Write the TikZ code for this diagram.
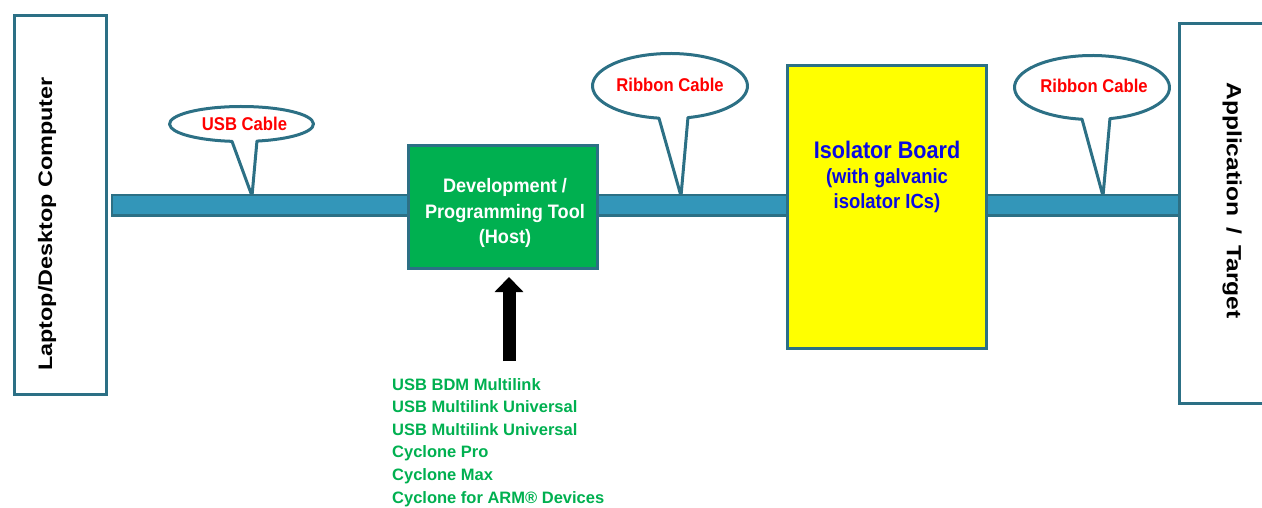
\documentclass[tikz,border=0pt]{standalone}
\usepackage{fontspec}
\setmainfont{Liberation Sans}
% narrowed face for horizontal labels, widened face for the upright side labels
\newfontfamily\hfont[FakeStretch=0.9]{Liberation Sans}
\newfontfamily\gfont[FakeStretch=0.93]{Liberation Sans}
\newfontfamily\vfont[FakeStretch=1.2]{Liberation Sans}
\newfontfamily\lfont{Liberation Sans}
\usetikzlibrary{arrows.meta,calc}

\definecolor{edge}{RGB}{44,112,133}
\definecolor{cable}{RGB}{51,150,185}
\definecolor{toolgreen}{RGB}{0,176,80}
\definecolor{isoyellow}{RGB}{255,255,0}
\definecolor{isoblue}{RGB}{10,10,225}
\definecolor{callred}{RGB}{255,0,0}

\begin{document}
\begin{tikzpicture}[x=1pt,y=-1pt,
  box/.style={draw=edge, line width=3pt, inner sep=0pt, outer sep=0pt, rectangle},
  endbox/.style={box, fill=white},
  bar/.style={draw=edge, fill=cable, line width=2.5pt},
  callout/.style={draw=edge, fill=white, line width=3pt, line join=round},
  calltext/.style={text=callred, font=\hfont\bfseries\fontsize{18.5}{20}\selectfont, inner sep=0pt},
  sidetext/.style={font=\vfont\bfseries\fontsize{19.5}{22}\selectfont, inner sep=0pt},
  toolarrow/.style={line width=13pt, -{Triangle[width=28pt,length=15pt]}},
  toollist/.style={text=toolgreen, align=left, inner sep=0pt,
    font=\lfont\bfseries\fontsize{16.5}{22.6}\selectfont}
]
\useasboundingbox (0,0) rectangle (1262,508);
\clip (0,0) rectangle (1262,508);

% end stations
\node[endbox, minimum width=92pt, minimum height=379pt] (laptop) at (60.5,205) {};
\node[sidetext, rotate=90] (laptoptext) at (47,224) {Laptop/Desktop Computer};
\node[endbox, minimum width=200pt, minimum height=380pt] (target) at (1279.5,213.5) {};
\node[sidetext, font=\vfont\bfseries\fontsize{20.5}{22}\selectfont, rotate=-90] (targettext) at (1232,200.5)
  {Application\hspace{11pt}/\hspace{11pt}Target};

% callout bubbles pointing at the cable
\coordinate (usbc) at (241.5,124);
\coordinate (usbtip) at (252,196);
\draw[callout] ($(usbc)+(77.6:72 and 17.5)$) arc[start angle=77.6, end angle=-262.4, x radius=72, y radius=17.5] -- (usbtip) -- cycle;
\node[calltext] (usbtext) at (244.5,124) {USB Cable};

\coordinate (ribac) at (670,86);
\coordinate (ribatip) at (681,196);
\draw[callout] ($(ribac)+(76.6:77.5 and 32.5)$) arc[start angle=76.6, end angle=-261.8, x radius=77.5, y radius=32.5] -- (ribatip) -- cycle;
\node[calltext] (ribatext) at (670,85) {Ribbon Cable};

\coordinate (ribbc) at (1092,87.5);
\coordinate (ribbtip) at (1103,196);
\draw[callout] ($(ribbc)+(76.6:77.5 and 32)$) arc[start angle=76.6, end angle=-262.6, x radius=77.5, y radius=32] -- (ribbtip) -- cycle;
\node[calltext] (ribbtext) at (1094,86) {Ribbon Cable};

% the cable run from the computer to the target
\draw[bar] ($(laptop.east |- 0,195.25)+(5.5,0)$) rectangle (target.west |- 0,215.75);

% programming tool and isolator board
\node[box, fill=toolgreen, minimum width=189pt, minimum height=123pt] (tool) at (503,207) {};
\node[text=white, align=center, inner sep=0pt, font=\gfont\bfseries\fontsize{19.5}{25.5}\selectfont] (tooltext) at (505,213)
  {Development /\\Programming Tool\\(Host)};

\node[box, fill=isoyellow, minimum width=199pt, minimum height=283pt] (iso) at (887,207) {};
\node[text=isoblue, align=center, inner sep=0pt, font=\hfont\bfseries\fontsize{20.5}{25}\selectfont] (isotext) at (887,177)
  {\fontsize{24}{28.5}\selectfont Isolator Board\\
   \fontsize{20.5}{25}\selectfont (with galvanic\\isolator ICs)};

% supported hardware feeding the tool
\coordinate (listfoot) at (509,361);
\coordinate (listtip) at (509,277);
\draw[toolarrow] (listfoot) -- (listtip);
\node[toollist, anchor=north west] (tools) at (392,378)
  {USB BDM Multilink\\USB Multilink Universal\\USB Multilink Universal\\Cyclone Pro\\Cyclone Max\\Cyclone for ARM\textregistered{} Devices};
\end{tikzpicture}
\end{document}
